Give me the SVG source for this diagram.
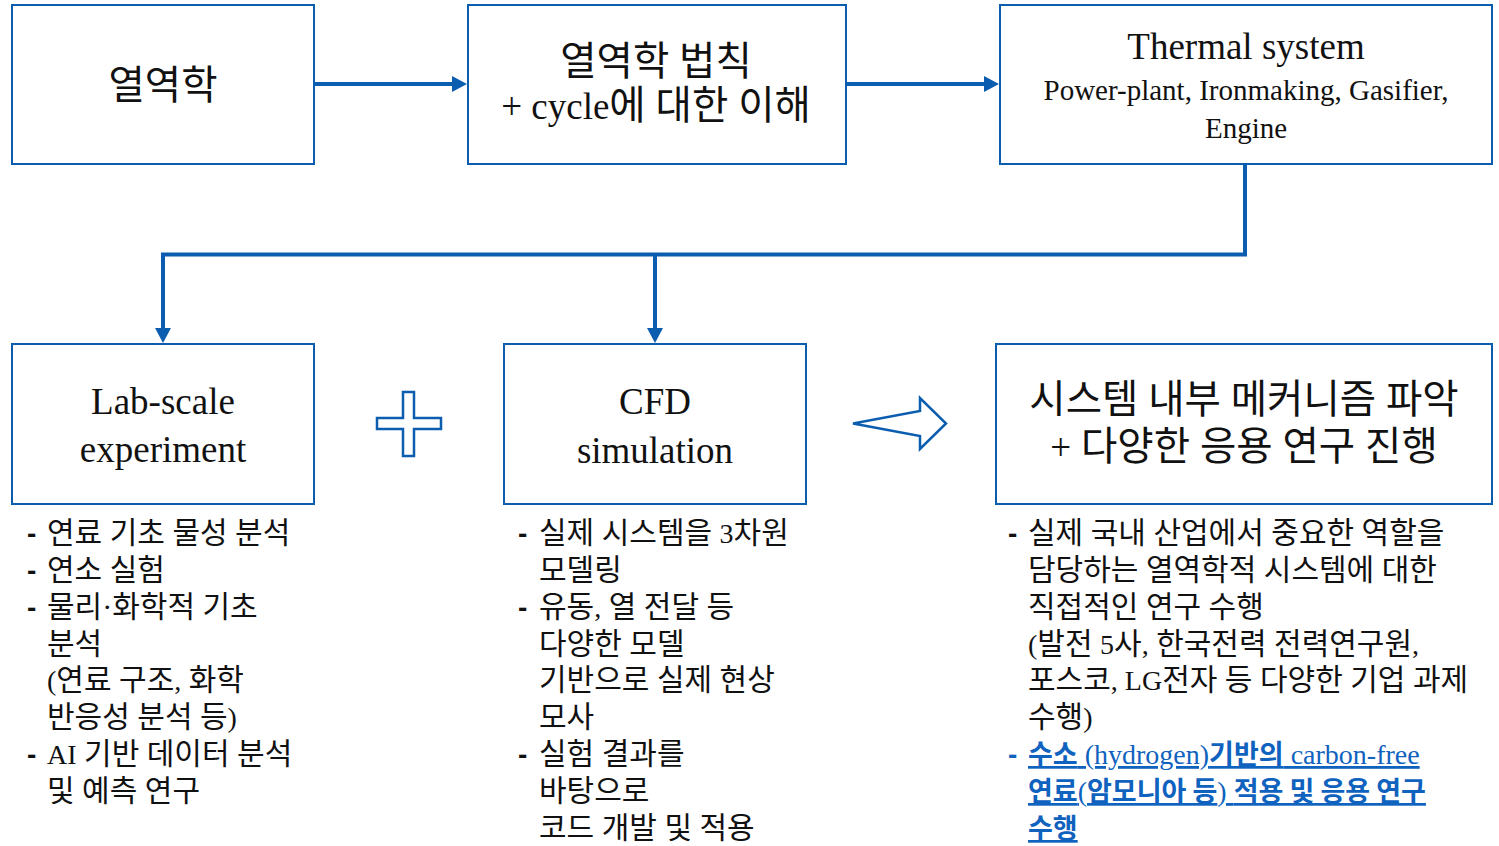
<svg xmlns="http://www.w3.org/2000/svg" width="1499" height="846" viewBox="0 0 1499 846">
<style>
.box{fill:#fff;stroke:#0B5DB0;stroke-width:2}
.con{fill:none;stroke:#0B5DB0;stroke-width:4}
.sym{fill:#fff;stroke:#0B5DB0;stroke-width:2.5;stroke-linejoin:miter}
text{font-family:"Liberation Serif","Noto Sans CJK KR",serif;fill:#111}
.t{font-size:37px;text-anchor:middle}
.k{font-size:39.5px;text-anchor:middle}
.E{font-size:37px}
.s{font-size:29px;text-anchor:middle}
.l{font-size:30px}
.e{font-size:28px}
.d{font-family:"Liberation Sans","Noto Sans CJK KR",sans-serif;font-size:28px;font-weight:700}
.b{fill:#0F62BE}
.bb{font-family:"Noto Sans CJK KR",sans-serif;font-weight:700;font-size:27px}
.u{text-decoration:underline}
</style>
<defs>
<marker id="ah" markerUnits="userSpaceOnUse" markerWidth="16" markerHeight="16" refX="7" refY="8" orient="auto">
<path d="M0,0 L15,8 L0,16 Z" fill="#0B5DB0"/>
</marker>
</defs>
<g id="connectors">
<path class="con" d="M314,84 H459" marker-end="url(#ah)"/>
<path class="con" d="M846,84 H991" marker-end="url(#ah)"/>
<path class="con" d="M1245,164 V254.5 H163 V335" marker-end="url(#ah)"/>
<path class="con" d="M655,254.5 V335" marker-end="url(#ah)"/>
</g>
<g id="n1">
<rect class="box" x="12" y="5" width="302" height="159"/>
<text class="k" x="163" y="99">열역학</text>
</g>
<g id="n2">
<rect class="box" x="468" y="5" width="378" height="159"/>
<text class="k" x="656" y="75">열역학 법칙</text>
<text class="k" x="656" y="119"><tspan class="E">+ cycle</tspan>에 대한 이해</text>
</g>
<g id="n3">
<rect class="box" x="1000" y="5" width="492" height="159"/>
<text class="t" x="1246" y="59">Thermal system</text>
<text class="s" x="1246" y="100">Power-plant, Ironmaking, Gasifier,</text>
<text class="s" x="1246" y="138">Engine</text>
</g>
<g id="n4">
<rect class="box" x="12" y="344" width="302" height="160"/>
<text class="t" x="163" y="414">Lab-scale</text>
<text class="t" x="163" y="462">experiment</text>
</g>
<g id="plus">
<polygon class="sym" points="403,392 414,392 414,418 441,418 441,429 414,429 414,456 403,456 403,429 377,429 377,418 403,418"/>
</g>
<g id="n5">
<rect class="box" x="504" y="344" width="302" height="160"/>
<text class="t" x="655" y="414">CFD</text>
<text class="t" x="655" y="463">simulation</text>
</g>
<g id="bigarrow">
<polygon class="sym" points="853,423.5 920,411 920,398 946,423.5 920,449 920,436"/>
</g>
<g id="n6">
<rect class="box" x="996" y="344" width="496" height="160"/>
<text class="k" x="1244" y="413">시스템 내부 메커니즘 파악</text>
<text class="k" x="1244" y="460"><tspan class="E">+</tspan> 다양한 응용 연구 진행</text>
</g>
<g id="list1">
<text class="d" x="27" y="543">-</text>
<text class="l" x="47" y="543">연료 기초 물성 분석</text>
<text class="d" x="27" y="580">-</text>
<text class="l" x="47" y="580">연소 실험</text>
<text class="d" x="27" y="617">-</text>
<text class="l" x="47" y="617">물리·화학적 기초</text>
<text class="l" x="47" y="654">분석</text>
<text class="l" x="47" y="690"><tspan class="e">(</tspan>연료 구조<tspan class="e">,</tspan> 화학</text>
<text class="l" x="47" y="727">반응성 분석 등<tspan class="e">)</tspan></text>
<text class="d" x="27" y="764">-</text>
<text class="l" x="47" y="764"><tspan class="e">AI</tspan> 기반 데이터 분석</text>
<text class="l" x="47" y="801">및 예측 연구</text>
</g>
<g id="list2">
<text class="d" x="518" y="543">-</text>
<text class="l" x="539" y="543">실제 시스템을 <tspan class="e">3</tspan>차원</text>
<text class="l" x="539" y="580">모델링</text>
<text class="d" x="518" y="617">-</text>
<text class="l" x="539" y="617">유동<tspan class="e">,</tspan> 열 전달 등</text>
<text class="l" x="539" y="654">다양한 모델</text>
<text class="l" x="539" y="690">기반으로 실제 현상</text>
<text class="l" x="539" y="727">모사</text>
<text class="d" x="518" y="764">-</text>
<text class="l" x="539" y="764">실험 결과를</text>
<text class="l" x="539" y="801">바탕으로</text>
<text class="l" x="539" y="838">코드 개발 및 적용</text>
</g>
<g id="list3">
<text class="d" x="1008" y="543">-</text>
<text class="l" x="1028" y="543">실제 국내 산업에서 중요한 역할을</text>
<text class="l" x="1028" y="580">담당하는 열역학적 시스템에 대한</text>
<text class="l" x="1028" y="617">직접적인 연구 수행</text>
<text class="l" x="1028" y="654"><tspan class="e">(</tspan>발전 <tspan class="e">5</tspan>사<tspan class="e">,</tspan> 한국전력 전력연구원<tspan class="e">,</tspan></text>
<text class="l" x="1028" y="690">포스코<tspan class="e">, LG</tspan>전자 등 다양한 기업 과제</text>
<text class="l" x="1028" y="727">수행<tspan class="e">)</tspan></text>
<text class="d b" x="1008" y="764">-</text>
<text class="e b u" x="1028" y="764"><tspan class="bb">수소</tspan> (hydrogen)<tspan class="bb">기반의</tspan> carbon-free</text>
<text class="e b u" x="1028" y="801"><tspan class="bb">연료</tspan>(<tspan class="bb">암모니아 등</tspan>) <tspan class="bb">적용 및 응용 연구</tspan></text>
<text class="e b u" x="1028" y="838"><tspan class="bb">수행</tspan></text>
</g>
</svg>
